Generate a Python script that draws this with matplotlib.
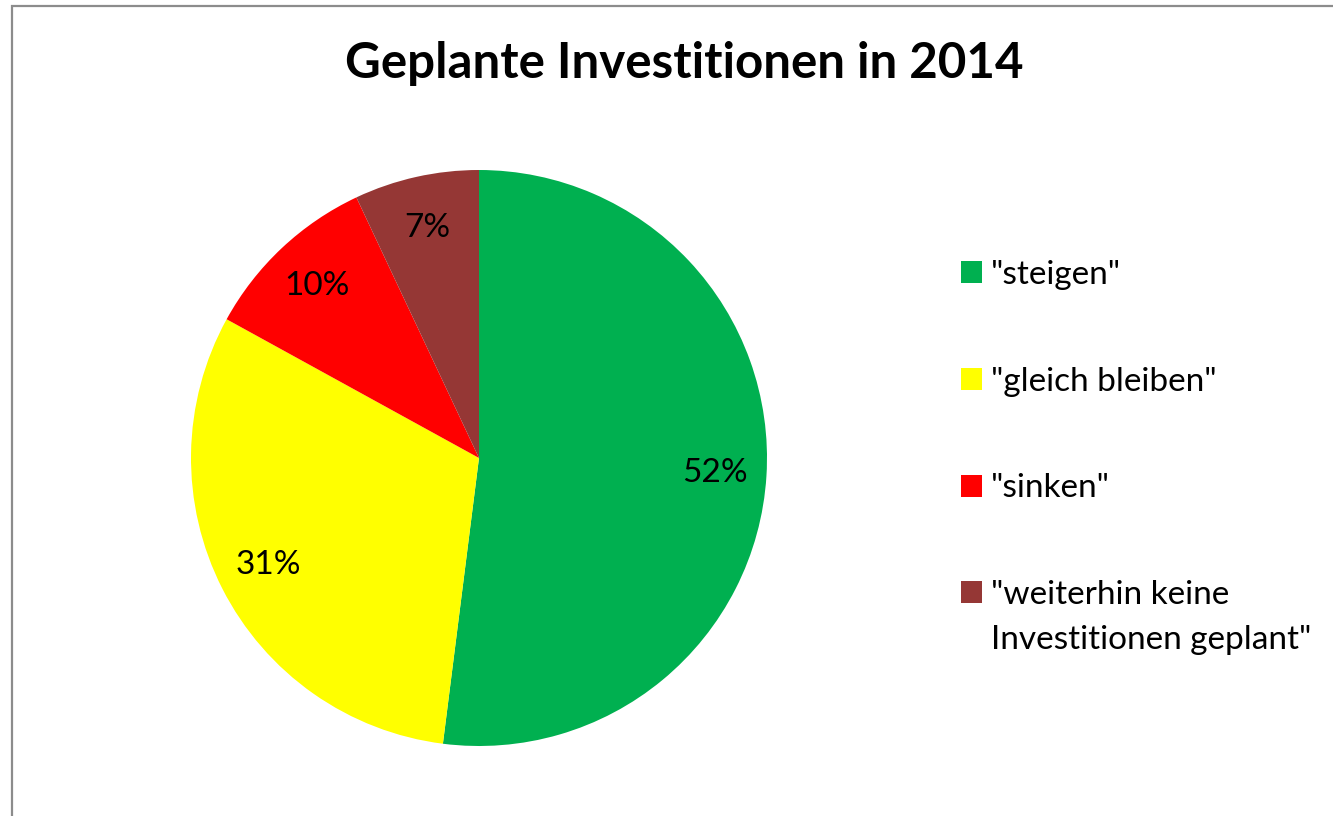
import matplotlib.pyplot as plt
from matplotlib.patches import Rectangle, Patch

plt.rcParams['font.family'] = ['Lato', 'DejaVu Sans']

categories = ['"steigen"', '"gleich bleiben"', '"sinken"',
              '"weiterhin keine\nInvestitionen geplant"']
shares = [52, 31, 10, 7]
colors = ['#00b050', '#ffff00', '#ff0000', '#953735']

W, H = 1333, 816
fig = plt.figure(figsize=(W / 100, H / 100), dpi=100)

# chart frame (cut off at right and bottom like the original)
fig.patches.append(Rectangle((12 / W, -0.1), 1.2, 1 - 6 / H + 0.1,
                             transform=fig.transFigure, fill=False,
                             edgecolor='#8c8c8c', linewidth=1.6))

cx, cy, r = 479, 458, 288
ax = fig.add_axes([(cx - r) / W, (H - cy - r) / H, 2 * r / W, 2 * r / H])
wedges, texts, autotexts = ax.pie(shares, colors=colors, startangle=90,
                                  counterclock=False, autopct='%1.0f%%',
                                  pctdistance=0.82,
                                  textprops={'fontsize': 24, 'color': 'black'})
ax.set_xlim(-1, 1)
ax.set_ylim(-1, 1)
ax.set_aspect('equal')

fig.text(684 / W, 1 - 63 / H, 'Geplante Investitionen in 2014',
         ha='center', va='center', fontsize=35.5, fontweight='bold')

# legend: handle sits on the first line of a wrapped label, like Excel
first_lines = [c.split('\n')[0] for c in categories]
handles = [Patch(facecolor=c, edgecolor='none') for c in colors]
leg = fig.legend(handles, first_lines, loc='center left',
                 bbox_to_anchor=(961 / W, 1 - 435 / H), frameon=False,
                 fontsize=24, handlelength=0.64, handleheight=0.64,
                 handletextpad=0.27, labelspacing=2.3,
                 borderpad=0, borderaxespad=0)

fig.canvas.draw()
for t, c in zip(leg.get_texts(), categories):
    rest = c.split('\n')[1:]
    if rest:
        bb = t.get_window_extent()
        fig.text(bb.x0 / W, (bb.y0 - 15) / H, '\n'.join(rest),
                 ha='left', va='top', fontsize=24)

fig.savefig('out.png', dpi=100)
